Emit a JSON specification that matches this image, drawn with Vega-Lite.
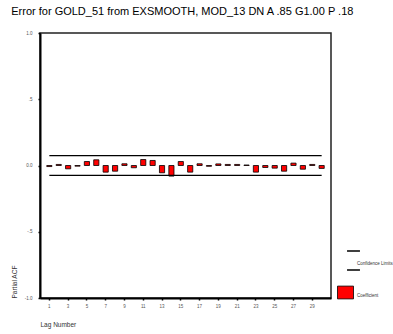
{
  "$schema": "https://vega.github.io/schema/vega-lite/v6.json",
  "autosize": "none",
  "padding": {"left": 40, "top": 33, "right": 62, "bottom": 36},
  "width": 291,
  "height": 265,
  "background": "white",
  "title": {
    "text": "Error for GOLD_51 from EXSMOOTH, MOD_13 DN A .85 G1.00 P .18",
    "font": "Liberation Sans",
    "fontSize": 11,
    "fontWeight": "normal",
    "color": "#000000",
    "anchor": "start",
    "offset": 13
  },
  "config": {
    "view": {"stroke": "#222222", "strokeWidth": 1.5},
    "axis": {
      "labelFont": "Liberation Sans",
      "titleFont": "Liberation Sans",
      "labelFontSize": 4.5,
      "labelColor": "#555555",
      "titleFontSize": 6.5,
      "titleFontWeight": "normal",
      "titleColor": "#333333",
      "domainColor": "#000000",
      "domainWidth": 2,
      "tickColor": "#000000",
      "tickWidth": 1.5,
      "tickSize": 2,
      "grid": false
    },
    "legend": {
      "labelFont": "Liberation Sans",
      "labelFontSize": 4.5,
      "labelColor": "#333333",
      "padding": 0
    }
  },
  "datasets": {
    "pacf": [
      {"lag": 1, "value": -0.008},
      {"lag": 2, "value": 0.008},
      {"lag": 3, "value": -0.025},
      {"lag": 4, "value": -0.005},
      {"lag": 5, "value": 0.03},
      {"lag": 6, "value": 0.043},
      {"lag": 7, "value": -0.05},
      {"lag": 8, "value": -0.043},
      {"lag": 9, "value": 0.013},
      {"lag": 10, "value": -0.017},
      {"lag": 11, "value": 0.045},
      {"lag": 12, "value": 0.038},
      {"lag": 13, "value": -0.055},
      {"lag": 14, "value": -0.08},
      {"lag": 15, "value": 0.03},
      {"lag": 16, "value": -0.05},
      {"lag": 17, "value": 0.013},
      {"lag": 18, "value": -0.006},
      {"lag": 19, "value": 0.012},
      {"lag": 20, "value": 0.008},
      {"lag": 21, "value": 0.008},
      {"lag": 22, "value": 0.004},
      {"lag": 23, "value": -0.05},
      {"lag": 24, "value": -0.015},
      {"lag": 25, "value": -0.02},
      {"lag": 26, "value": -0.043},
      {"lag": 27, "value": 0.018},
      {"lag": 28, "value": -0.028},
      {"lag": 29, "value": 0.008},
      {"lag": 30, "value": -0.022}
    ],
    "limits": [
      {"from": 1, "to": 30, "limit": 0.074, "series": "Confidence Limits"},
      {"from": 1, "to": 30, "limit": -0.074, "series": "Confidence Limits"}
    ]
  },
  "layer": [
    {
      "data": {"name": "pacf"},
      "mark": {"type": "bar", "stroke": "#000000", "strokeWidth": 0.8},
      "encoding": {
        "x": {
          "field": "lag",
          "type": "ordinal",
          "scale": {"paddingInner": 0.45, "paddingOuter": 0.72},
          "axis": {
            "values": [1, 3, 5, 7, 9, 11, 13, 15, 17, 19, 21, 23, 25, 27, 29],
            "labelAngle": 0,
            "labelPadding": 3,
            "title": "Lag Number",
            "titleAnchor": "start",
            "titlePadding": 14
          }
        },
        "y": {
          "field": "value",
          "type": "quantitative",
          "scale": {"domain": [-1, 1]},
          "axis": {
            "values": [-1, -0.5, 0, 0.5, 1],
            "labelExpr": "datum.value == 1 ? '1.0' : datum.value == 0.5 ? '.5' : datum.value == 0 ? '0.0' : datum.value == -0.5 ? '-.5' : '-1.0'",
            "labelPadding": 6,
            "title": "Partial ACF",
            "titleAnchor": "start",
            "titlePadding": 7
          }
        },
        "fill": {
          "datum": "Coefficient",
          "scale": {"range": ["#ff0000"]},
          "legend": {
            "title": null,
            "orient": "none",
            "legendX": 297,
            "legendY": 251,
            "symbolType": "M -1 -0.8 H 1 V 0.8 H -1 Z",
            "symbolSize": 256,
            "symbolStrokeColor": "#000000",
            "symbolStrokeWidth": 0.8,
            "labelOffset": 3,
            "labelBaseline": "top"
          }
        }
      }
    },
    {
      "data": {"name": "limits"},
      "mark": {"type": "rule", "strokeWidth": 1.2},
      "encoding": {
        "x": {"field": "from", "type": "ordinal"},
        "x2": {"field": "to"},
        "y": {"field": "limit", "type": "quantitative"},
        "stroke": {
          "field": "series",
          "type": "nominal",
          "scale": {"range": ["#000000"]},
          "legend": {
            "title": null,
            "orient": "none",
            "legendX": 303,
            "legendY": 217,
            "symbolType": "M -0.68 -1 H 0.68 M -0.68 1 H 0.68",
            "symbolSize": 361,
            "symbolStrokeColor": "#000000",
            "symbolOpacity": 1,
            "symbolStrokeWidth": 1.4,
            "symbolFillColor": "transparent",
            "labelOffset": -7,
            "labelBaseline": "top"
          }
        }
      }
    }
  ]
}
